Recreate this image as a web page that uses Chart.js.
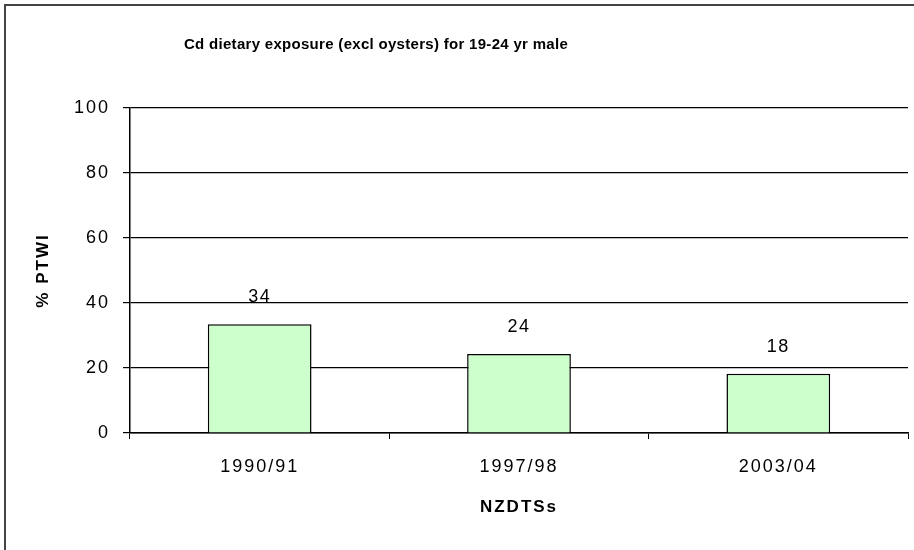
<!DOCTYPE html>
<html lang="en">
<head>
    <meta charset="UTF-8">
    <title>Cd dietary exposure</title>
    <script src="https://cdn.jsdelivr.net/npm/chart.js@4.4.0/dist/chart.umd.min.js"></script>
    <style>
        html, body { margin: 0; padding: 0; background: #fff; }
        #wrap { width: 914px; height: 550px; position: relative; }
    </style>
</head>
<body>
    <div id="wrap"><canvas id="cdChart"></canvas></div>

    <script>
        // Survey years and % PTWI values
        const surveys = ['1990/91', '1997/98', '2003/04'];
        const ptwi = [33.5, 24.3, 18.2];
        const ptwiLabels = ['34', '24', '18'];
        const yTicks = [0, 20, 40, 60, 80, 100];

        const chartTitle = 'Cd dietary exposure (excl oysters) for 19-24 yr male';
        const fontFamily = '"Liberation Sans", Arial, sans-serif';

        // frame, title and value labels drawn on top of the chart
        const extras = {
            id: 'extras',
            beforeDraw(chart) {
                const ctx = chart.ctx;
                ctx.save();
                ctx.fillStyle = '#fff';
                ctx.fillRect(0, 0, chart.width, chart.height);
                ctx.strokeStyle = '#444';
                ctx.lineWidth = 2;
                ctx.beginPath();
                ctx.moveTo(5, chart.height);
                ctx.lineTo(5, 5);
                ctx.lineTo(chart.width, 5);
                ctx.stroke();
                ctx.restore();
                // old-style spaced lettering for ticks and axis titles
                ctx.letterSpacing = '2px';
            },
            afterDraw(chart) {
                const ctx = chart.ctx;
                ctx.save();
                ctx.letterSpacing = '0.3px';
                ctx.fillStyle = '#000';
                ctx.textAlign = 'center';
                ctx.textBaseline = 'middle';
                ctx.font = 'bold 15px ' + fontFamily;
                ctx.fillText(chartTitle, 376, 45);

                ctx.letterSpacing = '1.5px';
                ctx.font = '18px ' + fontFamily;
                ctx.textBaseline = 'alphabetic';
                const meta = chart.getDatasetMeta(0);
                meta.data.forEach((bar, i) => {
                    ctx.fillText(ptwiLabels[i], bar.x, bar.y - 22);
                });
                ctx.restore();
            }
        };

        const ctx = document.getElementById('cdChart').getContext('2d');
        new Chart(ctx, {
            type: 'bar',
            data: {
                labels: surveys,
                datasets: [{
                    data: ptwi,
                    backgroundColor: '#ccffcc',
                    borderColor: '#000',
                    borderWidth: 1.5,
                    categoryPercentage: 1,
                    barPercentage: 0.4
                }]
            },
            options: {
                responsive: true,
                maintainAspectRatio: false,
                animation: false,
                layout: { padding: { left: 0, right: 6, top: 108, bottom: 0 } },
                plugins: {
                    legend: { display: false },
                    tooltip: { enabled: false }
                },
                scales: {
                    x: {
                        afterFit(scale) { scale.height = 117; },
                        grid: {
                            offset: true,
                            drawOnChartArea: false,
                            color: '#000',
                            tickLength: 6
                        },
                        border: { color: '#000', width: 1.5 },
                        ticks: {
                            color: '#000',
                            padding: 17,
                            font: { family: fontFamily, size: 18 }
                        },
                        title: {
                            display: true,
                            text: 'NZDTSs',
                            color: '#000',
                            padding: { top: 0, bottom: 32 },
                            font: { family: fontFamily, size: 17, weight: 'bold' }
                        }
                    },
                    y: {
                        min: 0,
                        max: 100,
                        afterFit(scale) { scale.width = 130; },
                        afterBuildTicks(scale) { scale.ticks = yTicks.map(v => ({ value: v })); },
                        grid: { color: '#000', tickLength: 7, lineWidth: 1.2 },
                        border: { color: '#000', width: 1.5 },
                        ticks: {
                            color: '#000',
                            padding: 13,
                            font: { family: fontFamily, size: 18 }
                        },
                        title: {
                            display: true,
                            text: '% PTWI',
                            color: '#000',
                            padding: { top: 33, bottom: 0 },
                            font: { family: fontFamily, size: 17, weight: 'bold' }
                        }
                    }
                }
            },
            plugins: [extras]
        });
    </script>
</body>
</html>
